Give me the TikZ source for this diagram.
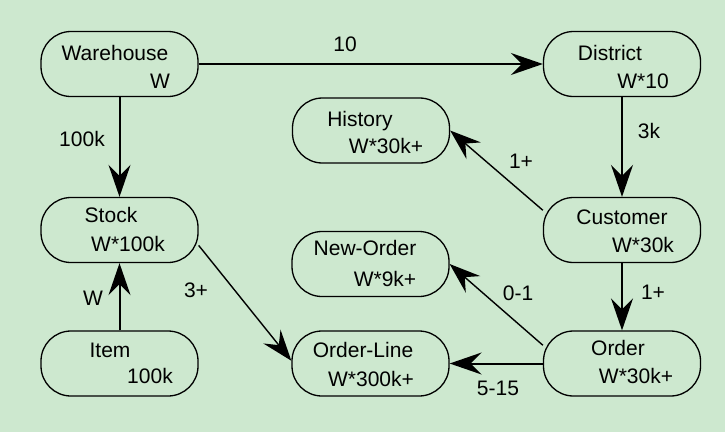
\documentclass[tikz,border=0pt]{standalone}
\usepackage{fontspec}
\setmainfont{Liberation Sans}
\usetikzlibrary{arrows.meta}
\definecolor{bg}{RGB}{205,232,207}
\begin{document}
\begin{tikzpicture}[x=1pt,y=-1pt,
  tbl/.style={draw=black,line width=1.3pt,fill=bg,rounded corners=30pt,
    minimum width=157pt,minimum height=65pt,inner sep=0pt},
  txt/.style={anchor=base,inner sep=0pt,font=\fontsize{21}{24}\selectfont},
  thickarrow/.style={line width=2pt,-{Stealth[length=32pt,width=22pt,inset=11pt]}},
  thinarrow/.style={line width=1.4pt,-{Stealth[length=31pt,width=22pt,inset=11pt]}}]
\fill[bg] (0,0) rectangle (725,432);
\useasboundingbox (0,0) rectangle (725,432);
% tables
\node[tbl] (wh) at (119.5,64) {};
\node[tbl] (dist) at (622,64) {};
\node[tbl] (hist) at (371,130.5) {};
\node[tbl] (stock) at (119.5,230) {};
\node[tbl] (cust) at (622,230) {};
\node[tbl] (newo) at (370.5,264) {};
\node[tbl] (item) at (119.5,363.5) {};
\node[tbl] (ol) at (370.5,363.5) {};
\node[tbl] (ord) at (622,363.5) {};
% texts
\node[txt] (whA) at (115,60) {Warehouse};
\node[txt] (whB) at (160,88) {W};
\node[txt] (distA) at (610,60) {District};
\node[txt] (distB) at (643,88) {W*10};
\node[txt] (histA) at (360,126) {History};
\node[txt] (histB) at (386,153) {W*30k+};
\node[txt] (stockA) at (111,222) {Stock};
\node[txt] (stockB) at (128,251) {W*100k};
\node[txt] (custA) at (622,224) {Customer};
\node[txt] (custB) at (643,252) {W*30k};
\node[txt] (newoA) at (365,255) {New-Order};
\node[txt] (newoB) at (385,286) {W*9k+};
\node[txt] (itemA) at (110,357) {Item};
\node[txt] (itemB) at (150,383) {100k};
\node[txt] (olA) at (363,357) {Order-Line};
\node[txt] (olB) at (371,386) {W*300k+};
\node[txt] (ordA) at (618,355) {Order};
\node[txt] (ordB) at (636,383) {W*30k+};
% connectors
\draw[thickarrow] (wh.east) -- (dist.west);
\draw[thickarrow] (wh.south) -- (stock.north);
\draw[thickarrow] (dist.south) -- (cust.north);
\draw[thickarrow] (cust.south) -- (ord.north);
\draw[thickarrow] (item.north) -- (stock.south);
\draw[thickarrow] (ord.west) -- (ol.east);
\draw[thinarrow] (cust.166) -- (hist.east);
\draw[thinarrow] (ord.167) -- (newo.east);
\draw[thinarrow] (stock.-11) -- (ol.178);
% edge labels
\node[txt] (l1) at (345,51) {10};
\node[txt] (l2) at (82,146) {100k};
\node[txt] (l3) at (649,138) {3k};
\node[txt] (l4) at (521,168) {1+};
\node[txt] (l5) at (93,305) {W};
\node[txt] (l6) at (196,297) {3+};
\node[txt] (l7) at (518,300) {0-1};
\node[txt] (l8) at (653,299) {1+};
\node[txt] (l9) at (498,395) {5-15};
\end{tikzpicture}
\end{document}
